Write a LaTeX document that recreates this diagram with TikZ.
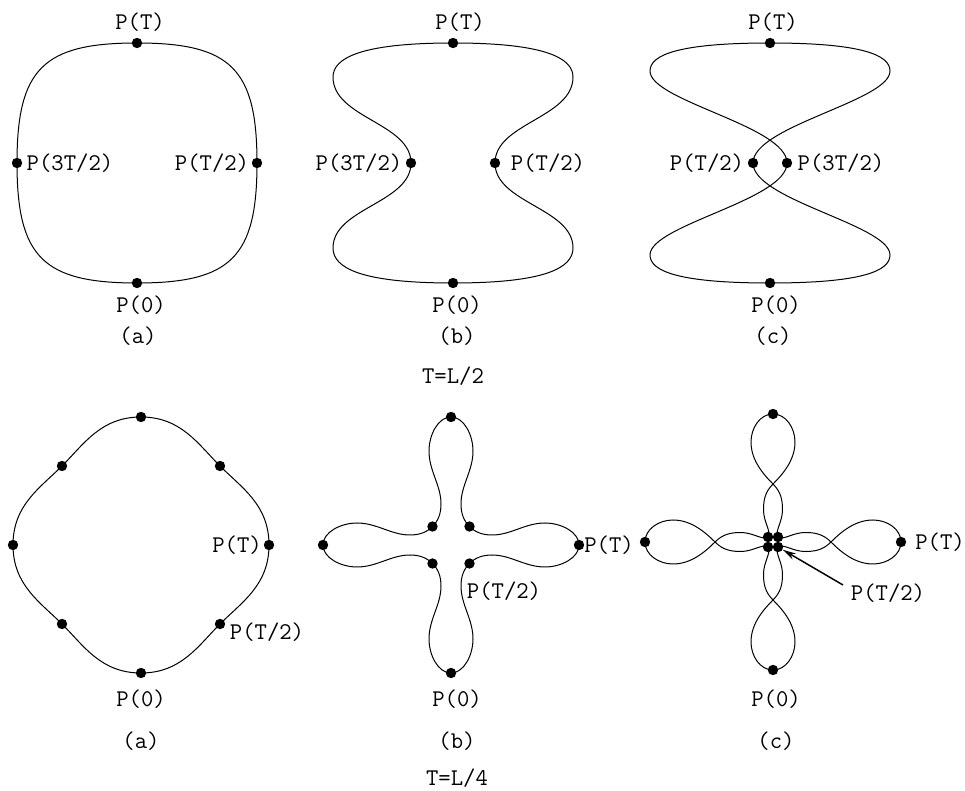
\documentclass[tikz,border=0pt]{standalone}
\usepackage{fontspec}
\usetikzlibrary{arrows.meta}
\begin{document}
\begin{tikzpicture}[x=0.75pt,y=-0.75pt,
  curve/.style={line width=0.75pt},
  dot/.style={circle,fill=black,inner sep=0pt,minimum size=7.8pt},
  lbl/.style={font=\fontsize{18}{21}\selectfont\ttfamily,inner sep=0pt},
  pointer/.style={line width=1.1pt,-{Stealth[length=10pt,width=5pt]}}]
\useasboundingbox (0,0) rectangle (965,791);

% ---------- top (a)
\begin{scope}[shift={(137,163)}]
 \draw[curve] (0,120) .. controls (94,120) and (120,94) .. (120,0)
   .. controls (120,-94) and (94,-120) .. (0,-120)
   .. controls (-94,-120) and (-120,-94) .. (-120,0)
   .. controls (-120,94) and (-94,120) .. cycle;
 \node[dot] (ta0) at (0,120) {};
 \node[dot] (ta1) at (120,0) {};
 \node[dot] (ta2) at (0,-120) {};
 \node[dot] (ta3) at (-120,0) {};
\end{scope}
\node[lbl] (tlaT) at (140,22) {P(T)};
\node[lbl] (tla3) at (70,163) {P(3T/2)};
\node[lbl] (tla1) at (212,163) {P(T/2)};
\node[lbl] (tla0) at (141,305) {P(0)};
\node[lbl] (tcapa) at (138,336) {(a)};

% ---------- top (b)
\begin{scope}[shift={(453,163)}]
 \draw[curve] (0,120) .. controls (92,120) and (120,105) .. (120,85)
   .. controls (120,45) and (42,40) .. (42,0)
   .. controls (42,-40) and (120,-45) .. (120,-86)
   .. controls (120,-105) and (92,-120) .. (0,-120)
   .. controls (-92,-120) and (-120,-105) .. (-120,-86)
   .. controls (-120,-45) and (-42,-40) .. (-42,0)
   .. controls (-42,40) and (-120,45) .. (-120,85)
   .. controls (-120,105) and (-92,120) .. cycle;
 \node[dot] (tb0) at (0,120) {};
 \node[dot] (tb1) at (42,0) {};
 \node[dot] (tb2) at (0,-120) {};
 \node[dot] (tb3) at (-42,0) {};
\end{scope}
\node[lbl] (tlbT) at (460,22) {P(T)};
\node[lbl] (tlb3) at (359,163) {P(3T/2)};
\node[lbl] (tlb1) at (548,163) {P(T/2)};
\node[lbl] (tlb0) at (457,305) {P(0)};
\node[lbl] (tcapb) at (457,336) {(b)};

% ---------- top (c)
\begin{scope}[shift={(770,163)}]
 \draw[curve] (0,120) .. controls (92,120) and (120,108) .. (120,92)
   .. controls (120,62) and (-17,37) .. (-17,0)
   .. controls (-17,-37) and (120,-62) .. (120,-92)
   .. controls (120,-108) and (92,-120) .. (0,-120)
   .. controls (-92,-120) and (-120,-108) .. (-120,-92)
   .. controls (-120,-62) and (17,-37) .. (17,0)
   .. controls (17,37) and (-120,62) .. (-120,92)
   .. controls (-120,108) and (-92,120) .. cycle;
 \node[dot] (tc0) at (0,120) {};
 \node[dot] (tc1) at (-17,0) {};
 \node[dot] (tc2) at (0,-120) {};
 \node[dot] (tc3) at (17,0) {};
\end{scope}
\node[lbl] (tlcT) at (773,22) {P(T)};
\node[lbl] (tlc1) at (707,163) {P(T/2)};
\node[lbl] (tlc3) at (841,163) {P(3T/2)};
\node[lbl] (tlc0) at (776,305) {P(0)};
\node[lbl] (tcapc) at (773,336) {(c)};

\node[lbl] (thalf) at (453,376) {T=L/2};

% ---------- bottom (a)
\begin{scope}[shift={(141,545)}]
 \foreach \r in {0,90,180,270}{
  \draw[curve,rotate=\r] (0,-128) .. controls (40,-128) and (57,-101) .. (79,-79)
    .. controls (101,-57) and (128,-40) .. (128,0);
 }
 \node[dot] (ba0) at (0,128) {};
 \node[dot] (ba1) at (79,79) {};
 \node[dot] (ba2) at (128,0) {};
 \node[dot] (ba3) at (79,-79) {};
 \node[dot] (ba4) at (0,-128) {};
 \node[dot] (ba5) at (-79,-79) {};
 \node[dot] (ba6) at (-128,0) {};
 \node[dot] (ba7) at (-79,79) {};
\end{scope}
\node[lbl] (blaT) at (237,545) {P(T)};
\node[lbl] (bla1) at (267,632) {P(T/2)};
\node[lbl] (bla0) at (141,699) {P(0)};
\node[lbl] (bcapa) at (141,741) {(a)};

% ---------- bottom (b)
\begin{scope}[shift={(451,545)}]
 \foreach \r in {0,90,180,270}{
  \draw[curve,rotate=\r] (-128,0) .. controls (-128,-13) and (-110,-22) .. (-94,-22)
    .. controls (-74,-22) and (-60,-10) .. (-41,-10)
    .. controls (-31,-10) and (-24,-13) .. (-18.5,-18.5)
    .. controls (-13,-24) and (-10,-31) .. (-10,-41)
    .. controls (-10,-60) and (-22,-74) .. (-22,-94)
    .. controls (-22,-110) and (-13,-128) .. (0,-128);
 }
 \node[dot] (bb0) at (0,128) {};
 \node[dot] (bb1) at (18.5,18.5) {};
 \node[dot] (bb2) at (128,0) {};
 \node[dot] (bb3) at (18.5,-18.5) {};
 \node[dot] (bb4) at (0,-128) {};
 \node[dot] (bb5) at (-18.5,-18.5) {};
 \node[dot] (bb6) at (-128,0) {};
 \node[dot] (bb7) at (-18.5,18.5) {};
\end{scope}
\node[lbl] (blbT) at (609,545) {P(T)};
\node[lbl] (blb1) at (504,591) {P(T/2)};
\node[lbl] (blb0) at (457,699) {P(0)};
\node[lbl] (bcapb) at (457,741) {(b)};

% ---------- bottom (c)
\begin{scope}[shift={(773,542)}]
 \foreach \r in {0,90,180,270}{
  \draw[curve,rotate=\r] (-128,0) .. controls (-128,-13) and (-114,-22) .. (-100,-22)
    .. controls (-82,-22) and (-68,-10) .. (-58,0)
    .. controls (-50,8) and (-42,9.5) .. (-32,9.5)
    .. controls (-20,9.5) and (-9,1) .. (-5,5)
    .. controls (-1,9) and (-9.5,20) .. (-9.5,32)
    .. controls (-9.5,42) and (-8,50) .. (0,58)
    .. controls (10,68) and (22,82) .. (22,100)
    .. controls (22,114) and (13,128) .. (0,128);
 }
 \node[dot] (bc0) at (0,128) {};
 \node[dot] (bc2) at (128,0) {};
 \node[dot] (bc4) at (0,-128) {};
 \node[dot] (bc6) at (-128,0) {};
 \node[dot] (bcul) at (-5,-5) {};
 \node[dot] (bcur) at (5,-5) {};
 \node[dot] (bcll) at (-5,5) {};
 \node[dot] (bclr) at (5,5) {};
\end{scope}
\node[lbl] (blcT) at (940,542) {P(T)};
\node[lbl] (blc1) at (888,593) {P(T/2)};
\node[lbl] (blc0) at (776,699) {P(0)};
\node[lbl] (bcapc) at (776,741) {(c)};
\coordinate (arrstart) at (843,585);
\draw[pointer] (arrstart) -- (bclr);

\node[lbl] (tquart) at (457,778) {T=L/4};
\end{tikzpicture}
\end{document}
